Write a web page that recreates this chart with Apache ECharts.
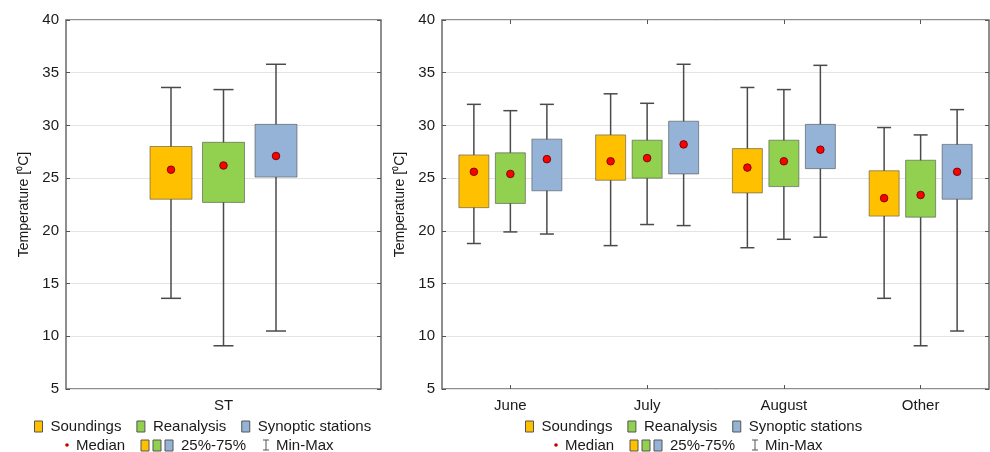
<!DOCTYPE html>
<html>
<head>
<meta charset="utf-8">
<script src="https://cdn.jsdelivr.net/npm/echarts@6/dist/echarts.min.js"></script>
<style>
  html, body { margin: 0; padding: 0; background: #fff; }
  #chart { width: 990px; height: 452px; }
</style>
</head>
<body>
<div id="chart"></div>
<script>
// Categories
const categoriesAll = ['ST'];
const categoriesMonth = ['June', 'July', 'August', 'Other'];
const seriesNames = ['Soundings', 'Reanalysis', 'Synoptic stations'];
const yTicks = [5, 10, 15, 20, 25, 30, 35, 40];

// Box statistics per category: [min, q1, median, q3, max] in °C
const stSoundings   = [[13.6, 23.0, 25.8, 28.0, 33.6]];
const stReanalysis  = [[9.1, 22.7, 26.2, 28.4, 33.4]];
const stSynoptic    = [[10.5, 25.1, 27.1, 30.1, 35.8]];

const monthSoundings = [
  [18.8, 22.2, 25.6, 27.2, 32.0],
  [18.6, 24.8, 26.6, 29.1, 33.0],
  [18.4, 23.6, 26.0, 27.8, 33.6],
  [13.6, 21.4, 23.1, 25.7, 29.8]
];
const monthReanalysis = [
  [19.9, 22.6, 25.4, 27.4, 31.4],
  [20.6, 25.0, 26.9, 28.6, 32.1],
  [19.2, 24.2, 26.6, 28.6, 33.4],
  [9.1, 21.3, 23.4, 26.7, 29.1]
];
const monthSynoptic = [
  [19.7, 23.8, 26.8, 28.7, 32.0],
  [20.5, 25.4, 28.2, 30.4, 35.8],
  [19.4, 25.9, 27.7, 30.1, 35.7],
  [10.5, 23.0, 25.6, 28.2, 31.5]
];

const colors = ['#FFC000', '#92D050', '#95B3D7'];
const FONT = "'Liberation Sans', Arial, sans-serif";
const TEXT_COLOR = '#1a1a1a';

// Draws one box-and-whisker with a median dot; slot selects the group offset.
function makeBoxRenderer(slot, layout) {
  return function (params, api) {
    const cat = api.value(0);
    const vMin = api.value(1), q1 = api.value(2), med = api.value(3), q3 = api.value(4), vMax = api.value(5);
    const base = api.coord([cat, med]);
    const cx = base[0] + (slot - 1) * layout.spread;
    const yMin = api.coord([cat, vMin])[1];
    const yQ1 = api.coord([cat, q1])[1];
    const yQ3 = api.coord([cat, q3])[1];
    const yMax = api.coord([cat, vMax])[1];
    const whisker = { stroke: '#4a4a4a', lineWidth: 1.5 };
    return {
      type: 'group',
      children: [
        { type: 'line', shape: { x1: cx, y1: yMax, x2: cx, y2: yMin }, style: whisker },
        { type: 'line', shape: { x1: cx - layout.capW / 2, y1: yMax, x2: cx + layout.capW / 2, y2: yMax }, style: whisker },
        { type: 'line', shape: { x1: cx - layout.capW / 2, y1: yMin, x2: cx + layout.capW / 2, y2: yMin }, style: whisker },
        { type: 'rect', shape: { x: cx - layout.boxW / 2, y: yQ3, width: layout.boxW, height: yQ1 - yQ3 },
          style: { fill: colors[slot], stroke: 'rgba(70,70,70,0.55)', lineWidth: 1 } },
        { type: 'circle', shape: { cx: cx, cy: base[1], r: 3.8 },
          style: { fill: '#FF0000', stroke: '#5a0000', lineWidth: 0.8 } }
      ]
    };
  };
}

function boxSeries(name, slot, rows, gridIdx, layout) {
  return {
    type: 'custom',
    name: name,
    xAxisIndex: gridIdx * 2,
    yAxisIndex: gridIdx * 2,
    itemStyle: { color: colors[slot] },
    renderItem: makeBoxRenderer(slot, layout),
    encode: { x: 0, y: [1, 2, 3, 4, 5] },
    data: rows.map((r, i) => [i].concat(r)),
    z: 5
  };
}

const leftLayout = { spread: 52.5, boxW: 42, capW: 20 };
const rightLayout = { spread: 36.5, boxW: 30, capW: 14 };

const grids = [
  { left: 66, top: 20, width: 315, height: 369 },
  { left: 442, top: 20, width: 547, height: 369 }
];

function xAxes(gridIdx, cats, ticks) {
  const tick = { show: ticks, inside: true, alignWithLabel: true, length: 4, lineStyle: { color: '#555' } };
  return [
    {
      type: 'category', gridIndex: gridIdx, data: cats, position: 'bottom',
      axisLine: { show: false },
      axisTick: tick,
      axisLabel: { fontSize: 15, fontFamily: FONT, color: TEXT_COLOR, margin: 9 },
      splitLine: { show: false }
    },
    {
      type: 'category', gridIndex: gridIdx, data: cats, position: 'top',
      axisLine: { show: false },
      axisTick: tick,
      axisLabel: { show: false },
      splitLine: { show: false }
    }
  ];
}

function yAxes(gridIdx) {
  return [
    {
      type: 'value', gridIndex: gridIdx, min: 5, max: 40, interval: 5, position: 'left',
      name: 'Temperature [\u2070C]', nameLocation: 'middle', nameGap: 35, nameRotate: 90,
      nameTextStyle: { fontSize: 14, fontFamily: FONT, color: TEXT_COLOR },
      axisLine: { show: false },
      axisTick: { show: true, inside: true, length: 4, lineStyle: { color: '#555' } },
      axisLabel: { fontSize: 15, fontFamily: FONT, color: TEXT_COLOR, margin: 7,
        formatter: v => (yTicks.indexOf(v) >= 0 ? String(v) : '') },
      splitLine: { show: true, lineStyle: { color: '#e4e4e4', width: 1 } }
    },
    {
      type: 'value', gridIndex: gridIdx, min: 5, max: 40, interval: 5, position: 'right',
      axisLine: { show: false },
      axisTick: { show: true, inside: true, length: 4, lineStyle: { color: '#555' } },
      axisLabel: { show: false },
      splitLine: { show: false }
    }
  ];
}

function legendRow(left) {
  return {
    left: left, top: 414, orient: 'horizontal',
    data: seriesNames.slice(),
    icon: 'rect', itemWidth: 8, itemHeight: 11, itemGap: 15,
    itemStyle: { borderColor: '#555', borderWidth: 1 },
    textStyle: { fontSize: 15, fontFamily: FONT, color: TEXT_COLOR, padding: [0, 0, 0, 3] },
    selectedMode: false
  };
}

// Second legend line: median dot, quartile boxes, min-max whisker key
function statsKey(x, y) {
  const txt = (tx, s) => ({ type: 'text', x: tx, y: y, style: { text: s, fontSize: 15, fontFamily: FONT, fill: TEXT_COLOR, verticalAlign: 'middle', align: 'left' } });
  const sq = (sx, c) => ({ type: 'rect', shape: { x: sx, y: y - 6, width: 8, height: 11 }, style: { fill: c, stroke: '#555', lineWidth: 1 } });
  const ln = (x1, y1, x2, y2) => ({ type: 'line', shape: { x1, y1, x2, y2 }, style: { stroke: '#555', lineWidth: 1 } });
  return [
    { type: 'circle', shape: { cx: x, cy: y - 1, r: 1.8 }, style: { fill: '#c00000' } },
    txt(x + 9, 'Median'),
    sq(x + 74, colors[0]), sq(x + 86, colors[1]), sq(x + 98, colors[2]),
    txt(x + 114, '25%-75%'),
    ln(x + 199, y - 6, x + 199, y + 4), ln(x + 196, y - 6, x + 202, y - 6), ln(x + 196, y + 4, x + 202, y + 4),
    txt(x + 209, 'Min-Max')
  ];
}

const option = {
  backgroundColor: '#fff',
  animation: false,
  grid: grids.map(g => Object.assign({ show: true, borderColor: '#6a6a6a', borderWidth: 1.5, backgroundColor: 'transparent' }, g)),
  xAxis: xAxes(0, categoriesAll, false).concat(xAxes(1, categoriesMonth, true)),
  yAxis: yAxes(0).concat(yAxes(1)),
  legend: [legendRow(29), legendRow(520)],
  graphic: statsKey(67, 446).concat(statsKey(556, 446)),
  series: [
    boxSeries(seriesNames[0], 0, stSoundings, 0, leftLayout),
    boxSeries(seriesNames[1], 1, stReanalysis, 0, leftLayout),
    boxSeries(seriesNames[2], 2, stSynoptic, 0, leftLayout),
    boxSeries(seriesNames[0], 0, monthSoundings, 1, rightLayout),
    boxSeries(seriesNames[1], 1, monthReanalysis, 1, rightLayout),
    boxSeries(seriesNames[2], 2, monthSynoptic, 1, rightLayout)
  ]
};

const chart = echarts.init(document.getElementById('chart'), null, { renderer: 'canvas' });
chart.setOption(option);
</script>
</body>
</html>
